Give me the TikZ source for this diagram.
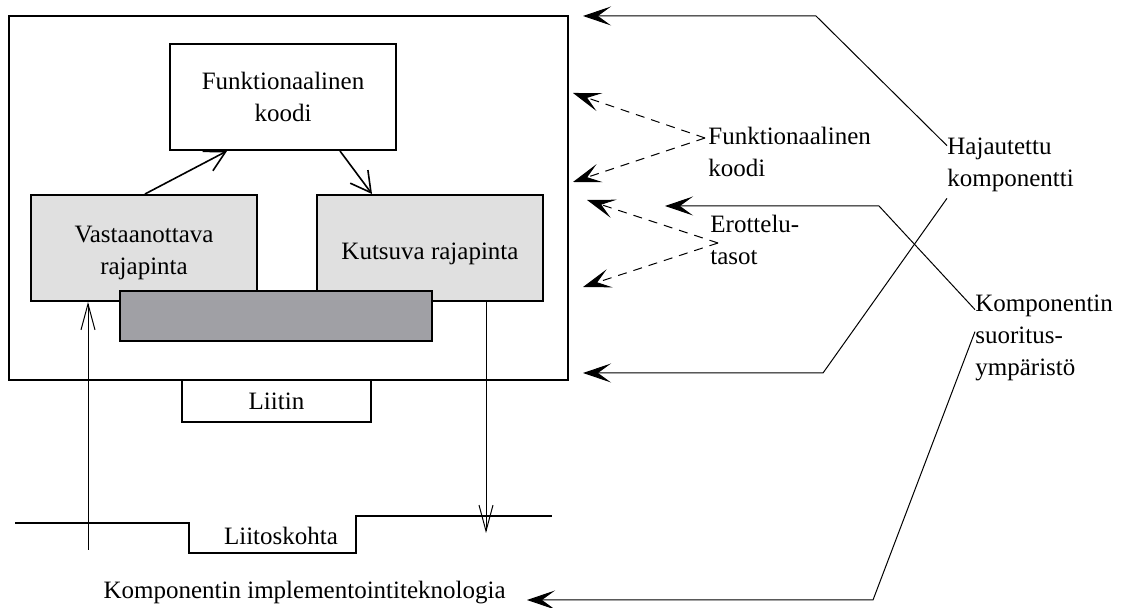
\documentclass[tikz,border=0pt]{standalone}
\usepackage{fontspec}
\setmainfont{Liberation Serif}
\usetikzlibrary{arrows.meta,calc}
\definecolor{ifacegray}{RGB}{224,224,224}
\definecolor{basegray}{RGB}{160,160,165}
\begin{document}
\begin{tikzpicture}[x=0.5pt,y=-0.5pt,
  every node/.style={font=\fontsize{12.5}{16}\selectfont, inner sep=0pt},
  frame/.style={draw, line width=1pt},
  panel/.style={draw, line width=1pt, fill=white, align=center},
  iface/.style={draw, line width=1pt, fill=ifacegray},
  boxtext/.style={align=center, inner sep=0pt},
  note/.style={align=left, anchor=west},
  pointer/.style={line width=0.5pt, -{Stealth[length=14pt,width=9.5pt,inset=6.5pt]}},
  dpointer/.style={pointer, dash pattern=on 4.5pt off 3.5pt},
  flow/.style={line width=0.8pt, -{Straight Barb[length=10pt,width=11pt,line width=0.8pt]}},
  signal/.style={line width=0.5pt, -{Straight Barb[length=13pt,width=7pt]}}
]
\useasboundingbox (0,0) rectangle (1130,608);

% component frame and its parts
\node[frame, minimum width=279.5pt, minimum height=182pt] (outer) at (288.5,198) {};
\node[panel, minimum width=113pt, minimum height=53pt] (funk) at (283,97) {Funktionaalinen\\koodi};
\node[iface, minimum width=113pt, minimum height=53pt,
      label={[boxtext, yshift=-2.5pt]center:Vastaanottava\\rajapinta}] (vast) at (144,248) {};
\node[iface, minimum width=113pt, minimum height=53pt,
      label={[boxtext, yshift=-3pt]center:Kutsuva rajapinta}] (kuts) at (430,248) {};
\node[draw, line width=1pt, fill=basegray, minimum width=156pt, minimum height=25pt] (base) at (276,316) {};
\node[panel, minimum width=94.5pt, minimum height=21pt] (liitin) at (276.5,401) {Liitin};

% calls between the parts
\draw[flow] ([xshift=0.5pt]vast.north) -- ([xshift=-28pt]funk.south);
\draw[flow] ([xshift=28.5pt]funk.south) -- ([xshift=-29pt]kuts.north);

% incoming and outgoing signals
\coordinate (srcIn) at (88,550);
\coordinate (dstOut) at (486,533);
\draw[signal] (srcIn) -- (srcIn |- vast.south);
\draw[signal] (dstOut |- kuts.south) -- (dstOut);

% joint line
\draw[line width=1pt] (15,523) -- (189,523) -- (189,553) -- (356,553) -- (356,516) -- (552,516);
\node (joint) at (281,536) {Liitoskohta};
\node[anchor=east] (tech) at (506,593) {Komponentin implementointiteknologia};

% explanation labels
\node[note] (fcode) at (708,152) {Funktionaalinen\\koodi};
\node[note] (planes) at (710,240) {Erottelu-\\tasot};
\node[note] (dist) at (947,165) {Hajautettu\\komponentti};
\node[note] (runtime) at (975,338) {Komponentin\\suoritus-\\ympäristö};

\coordinate (fv) at ($(fcode.west)+(-3,-14)$);
\coordinate (ev) at ($(planes.west)+(8,3)$);
\coordinate (fa) at (573,93);
\coordinate (fb) at (573,182);
\coordinate (ea) at (587,200);
\coordinate (eb) at (583,287);
\draw[dpointer] (fv) -- (fa);
\draw[dpointer] (fv) -- (fb);
\draw[dpointer] (ev) -- (ea);
\draw[dpointer] (ev) -- (eb);

\coordinate (b1) at (816,16);   \coordinate (t1) at (583,16);
\coordinate (b2) at (823,373);  \coordinate (t2) at (583,373);
\coordinate (b3) at (879,206);  \coordinate (t3) at (665,206);
\coordinate (b4) at (873,600);  \coordinate (t4) at (527,600);
\draw[pointer] ($(dist.north west)+(0,8)$) -- (b1) -- (t1);
\draw[pointer] ($(dist.south west)+(0,6)$) -- (b2) -- (t2);
\draw[pointer] ($(runtime.north west)+(0,15)$) -- (b3) -- (t3);
\draw[pointer] ($(runtime.north west)+(0,37)$) -- (b4) -- (t4);
\end{tikzpicture}
\end{document}
